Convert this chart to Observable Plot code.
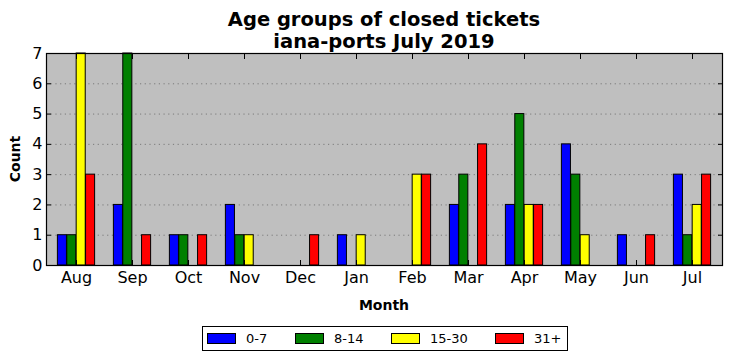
<!DOCTYPE html>
<html>
<head>
<meta charset="utf-8">
<script src="https://cdn.jsdelivr.net/npm/d3@7"></script>
<script src="https://cdn.jsdelivr.net/npm/@observablehq/plot@0.6"></script>
<style>
  html, body { margin: 0; padding: 0; background: #fff; }
  #wrap { position: relative; width: 732px; height: 361px; font-family: "DejaVu Sans", sans-serif; color: #000; }
  #wrap svg { position: absolute; left: 0; top: 0; }
  .title { position: absolute; left: 46px; width: 676px; top: 9px; text-align: center; font-weight: bold; font-size: 19.5px; line-height: 21.5px; }
  .xlabel { position: absolute; left: 46px; width: 676px; top: 297px; text-align: center; font-weight: bold; font-size: 14px; line-height: 16px; }
  .ylabel { position: absolute; left: 15px; top: 159px; transform: translate(-50%, -50%) rotate(-90deg); font-weight: bold; font-size: 14px; line-height: 16px; white-space: nowrap; }
  .legend { position: absolute; left: 202px; top: 326px; width: 364px; height: 23px; border: 1px solid #000; background: #fff; font-size: 13px; white-space: nowrap; }
  .legend .item { position: absolute; top: 0; height: 23px; display: flex; align-items: center; }
  .legend .sw { flex: none; width: 27px; height: 9px; border: 1px solid #000; margin-right: 10px; }
</style>
</head>
<body>
<div id="wrap"></div>
<script>
const months = ["Aug","Sep","Oct","Nov","Dec","Jan","Feb","Mar","Apr","May","Jun","Jul"];
const groups = ["0-7","8-14","15-30","31+"];
const colors = ["#0000ff","#008000","#ffff00","#ff0000"];
const g0_7   = [1,2,1,2,0,1,0,2,2,4,1,3];
const g8_14  = [1,7,1,1,0,0,0,3,5,3,0,1];
const g15_30 = [7,0,0,1,0,1,3,0,2,1,0,2];
const g31    = [3,1,1,0,1,0,3,4,2,0,1,3];
const yTicks = [0,1,2,3,4,5,6,7];

const series = [g0_7, g8_14, g15_30, g31];
const rows = [];
groups.forEach((g, gi) => months.forEach((m, mi) => rows.push({month: m, group: g, count: series[gi][mi]})));

const W = 732, H = 361, mL = 46, mR = 10, mT = 53, mB = 96;
const band = (W - mL - mR) / months.length;
const unit = band / 6;

const barMarks = groups.map((g, gi) => Plot.barY(rows.filter(d => d.group === g), {
  x: "month", y: "count", fill: colors[gi], stroke: "#000", strokeWidth: 1,
  insetLeft: unit * (gi + 1), insetRight: unit * (4 - gi)
}));

const chart = Plot.plot({
  width: W, height: H,
  marginLeft: mL, marginRight: mR, marginTop: mT, marginBottom: mB,
  style: {fontFamily: "DejaVu Sans, sans-serif", fontSize: "16px", background: "transparent", color: "#000"},
  x: {type: "band", domain: months, padding: 0, label: null},
  y: {domain: [0, 7], label: null},
  marks: [
    Plot.frame({fill: "#bfbfbf", stroke: null}),
    Plot.gridY([1,2,3,4,5,6], {stroke: "#7a7a7a", strokeOpacity: 1, strokeDasharray: "1.2,3.5", strokeWidth: 1}),
    ...barMarks,
    Plot.axisY({ticks: yTicks, anchor: "left", tickSize: -5, tickPadding: 9, fontSize: 16, label: null, tickFormat: d => String(d)}),
    Plot.axisY({ticks: yTicks, anchor: "right", tickSize: -5, tickFormat: () => "", label: null}),
    Plot.axisX({anchor: "bottom", tickSize: -5, tickPadding: 11, fontSize: 16, label: null}),
    Plot.axisX({anchor: "top", tickSize: -5, tickFormat: () => "", label: null}),
    Plot.frame({stroke: "#000", strokeWidth: 1.2})
  ]
});

const wrap = document.getElementById("wrap");
wrap.appendChild(chart);

const title = document.createElement("div");
title.className = "title";
title.innerHTML = "Age groups of closed tickets<br>iana-ports July 2019";
wrap.appendChild(title);

const xl = document.createElement("div");
xl.className = "xlabel"; xl.textContent = "Month"; wrap.appendChild(xl);
const yl = document.createElement("div");
yl.className = "ylabel"; yl.textContent = "Count"; wrap.appendChild(yl);

// legend item left offsets inside the box (layout)
const legendLeft = [4, 92, 188, 292];
const legend = document.createElement("div");
legend.className = "legend";
groups.forEach((g, gi) => {
  const it = document.createElement("div"); it.className = "item";
  it.style.left = legendLeft[gi] + "px";
  const sw = document.createElement("div"); sw.className = "sw"; sw.style.background = colors[gi];
  const tx = document.createElement("span"); tx.textContent = g;
  it.appendChild(sw); it.appendChild(tx);
  legend.appendChild(it);
});
wrap.appendChild(legend);
</script>
</body>
</html>
